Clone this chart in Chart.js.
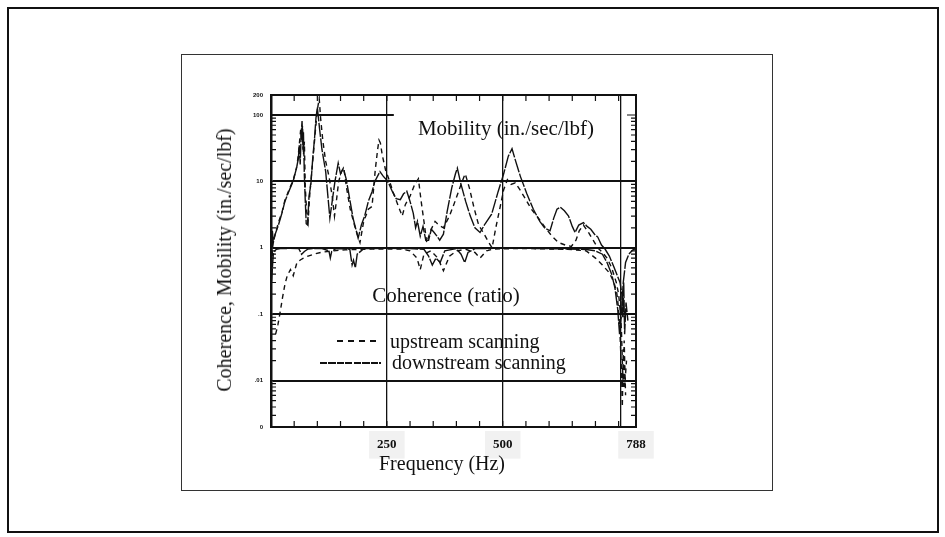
<!DOCTYPE html>
<html>
<head>
<meta charset="utf-8">
<script src="https://cdn.jsdelivr.net/npm/chart.js@4.4.1/dist/chart.umd.min.js"></script>
<style>
  body { margin: 0; background: #fff; }
  #wrap { position: relative; width: 945px; height: 537px; overflow: hidden; font-family: "Liberation Serif", "DejaVu Serif", serif; color: #111; }
  canvas { position: absolute; left: 0; top: 0; }
  .frame { position: absolute; box-sizing: border-box; border: 2px solid #111; }
  .txt { position: absolute; white-space: nowrap; line-height: 1; }
  .dash { position: absolute; height: 2px; }
</style>
</head>
<body>
<div id="wrap">
  <div class="frame" style="left:7px;top:7px;width:932px;height:526px;"></div>
  <div class="frame" style="left:181px;top:54px;width:592px;height:437px;border-width:1.5px;border-color:#333;"></div>
  <canvas id="chart" width="945" height="537"></canvas>

  <div class="txt" style="left:224px;top:260px;font-size:20px;transform:translate(-50%,-50%) rotate(-90deg);">Coherence, Mobility (in./sec/lbf)</div>
  <div class="txt" style="left:442px;top:463px;font-size:20px;transform:translate(-50%,-50%);">Frequency (Hz)</div>
  <div class="txt" style="left:506px;top:128px;font-size:21px;transform:translate(-50%,-50%);">Mobility (in./sec/lbf)</div>
  <div class="txt" style="left:446px;top:295px;font-size:21px;transform:translate(-50%,-50%);">Coherence (ratio)</div>

  <div class="dash" style="left:337px;top:340px;width:44px;background:repeating-linear-gradient(to right,#111 0 6px,transparent 6px 11px);"></div>
  <div class="txt" style="left:390px;top:341px;font-size:20px;transform:translateY(-50%);">upstream scanning</div>
  <div class="dash" style="left:320px;top:362px;width:61px;background:repeating-linear-gradient(to right,#111 0 7px,transparent 7px 8.5px);"></div>
  <div class="txt" style="left:392px;top:362px;font-size:20px;transform:translateY(-50%);">downstream scanning</div>
</div>

<script>
// axis ranges and tick labels
const xMin = 0;
const xMax = 787.5;
const xTickStep = 50;
const xTickValues = [0, 250, 500, 755, 787.5];
const xTickLabels = ['', '250', '500', '', '788'];
const xGridValues = [250, 500, 755];

const yMin = 0.002;
const yMax = 200;
const yTickValues = [0.002, 0.01, 0.1, 1, 10, 100, 200];
const yTickLabels = ['0', '.01', '.1', '1', '10', '100', '200'];
const yGridValues = [0.01, 0.1, 1, 10];

// partial reference line at 100
const refLineFreq = [0, 265];
const refLineVal = [100, 100];

// mobility, downstream scanning (solid)
const mobDownFreq = [1, 3, 5, 9, 16, 24, 30, 40, 48, 55,
  59, 61, 63, 65, 67, 69, 70, 72, 74, 76,
  79, 82, 86, 90, 94, 97, 100, 102, 105, 110,
  118, 127, 132, 138, 145, 150, 156, 162, 167, 177,
  188, 195, 202, 210, 218, 224, 235, 242, 249, 255,
  262, 270, 279, 286, 293, 300, 307, 312, 316, 322,
  328, 334, 340, 346, 352, 358, 364, 372, 380, 390,
  398, 402, 410, 420, 430, 440, 451, 462, 476, 490,
  502, 512, 520, 528, 538, 552, 566, 580, 590, 602,
  610, 617, 624, 633, 642, 650, 656, 664, 674, 682,
  690, 698, 705, 713, 721, 730, 739, 746, 753, 757,
  759, 761, 763, 766, 770];
const mobDownVal = [0.6, 1.8, 1.2, 1.6, 2.2, 3.4, 5, 7.5, 10.2, 15.8,
  22, 35, 18, 50, 81, 30, 55, 12, 5, 2.3,
  2.2, 6, 9, 22, 45, 90, 130, 95, 60, 30,
  14, 2.8, 5, 10, 18.8, 13, 15.8, 11, 7, 2.8,
  1.4, 2.2, 3, 5, 7, 10, 14, 12, 10.6, 9,
  7, 5.5, 5.3, 6.5, 7.1, 5, 3.3, 2, 2.5, 1.5,
  2.1, 1.3, 1.3, 1.9, 1.7, 1.5, 1.3, 1.6, 3.5, 8,
  13, 15.8, 9, 5, 3, 2, 1.7, 2.3, 3.2, 7,
  13, 24, 31, 20, 11.9, 6.5, 3.8, 2.5, 2, 1.8,
  2.8, 3.8, 4.1, 3.6, 3, 2.1, 1.7, 2.2, 2.4, 2.1,
  1.9, 1.6, 1.45, 1.1, 0.95, 0.75, 0.53, 0.4, 0.3, 0.2,
  0.09, 0.3, 0.05, 0.15, 0.08];

// mobility, upstream scanning (dashed)
const mobUpFreq = [1, 4, 8, 16, 24, 30, 40, 48, 56, 60,
  64, 66, 68, 70, 72, 74, 77, 80, 84, 90,
  96, 100, 104, 107, 112, 118, 125, 132, 137, 141,
  146, 152, 157, 163, 171, 180, 186, 192, 200, 210,
  218, 225, 230, 233, 236, 240, 247, 254, 264, 275,
  283, 290, 300, 310, 318, 324, 330, 336, 344, 354,
  362, 372, 385, 397, 410, 419, 428, 438, 448, 460,
  470, 477, 485, 494, 502, 510, 518, 527, 537, 548,
  562, 577, 592, 606, 620, 635, 648, 658, 665, 674,
  685, 695, 705, 715, 725, 735, 745, 750, 753, 756,
  758, 760, 762, 765];
const mobUpVal = [0.4, 1.3, 1.5, 2.4, 3.5, 5.2, 7.8, 10.5, 17, 30,
  60, 40, 70, 25, 40, 8, 3.5, 2.5, 7, 20,
  60, 120, 177, 90, 40, 20, 12, 6, 3, 5,
  10, 14, 16, 8, 3.8, 2.2, 1.6, 1.2, 2.5, 3.8,
  4.2, 15, 30, 42, 38, 25, 15, 11, 6.7, 4.2,
  3, 4.5, 6, 9, 11, 5, 2.5, 1.2, 1.8, 2.5,
  2.2, 2, 3, 5, 9, 13, 8, 4, 2.2, 1.6,
  1.2, 1.0, 2, 4, 7.5, 10.6, 9, 9.5, 7.5, 5.6,
  3.8, 2.8, 2, 1.5, 1.2, 1.1, 1.05, 1.3, 1.8, 2.2,
  1.7, 1.3, 1.0, 0.85, 0.7, 0.5, 0.3, 0.2, 0.12, 0.06,
  0.02, 0.008, 0.04, 0.006];

// coherence, upstream scanning (dashed)
const cohUpFreq = [10, 15, 19, 25, 30, 35, 42, 48, 56,
  64, 70, 80, 92, 110, 135, 160, 200, 240, 280,
  300, 315, 322, 330, 345, 360, 372, 385, 401, 420,
  440, 451, 465, 480, 520, 560, 600, 640, 680, 700,
  715, 730, 740, 746, 750, 753, 756, 758, 760, 763,
  767];
const cohUpVal = [0.05, 0.07, 0.1, 0.18, 0.28, 0.38, 0.47, 0.38, 0.6,
  0.66, 0.7, 0.75, 0.8, 0.86, 0.9, 0.93, 0.95, 0.96, 0.96,
  0.9, 0.7, 0.47, 0.8, 0.9, 0.7, 0.45, 0.75, 0.9, 0.95,
  0.85, 0.7, 0.9, 0.96, 0.97, 0.97, 0.96, 0.95, 0.9, 0.7,
  0.55, 0.42, 0.3, 0.21, 0.12, 0.05, 0.015, 0.004, 0.03, 0.008,
  0.02];

// coherence, downstream scanning (solid)
const cohDownFreq = [1, 3, 5, 8, 12, 20, 40, 60, 66, 72,
  80, 90, 110, 125, 128, 131, 140, 170, 175, 178,
  182, 186, 200, 250, 300, 330, 340, 348, 356, 365,
  375, 400, 410, 418, 425, 440, 480, 520, 560, 600,
  640, 680, 700, 715, 725, 735, 742, 748, 752, 756,
  760, 765, 772, 780, 787];
const cohDownVal = [0.3, 0.5, 0.8, 0.9, 0.95, 0.97, 0.98, 0.97, 0.8, 0.88,
  0.96, 0.97, 0.97, 0.9, 0.7, 0.88, 0.97, 0.95, 0.55, 0.65,
  0.5, 0.8, 0.97, 0.98, 0.97, 0.95, 0.75, 0.55, 0.7, 0.6,
  0.9, 0.97, 0.8, 0.6, 0.85, 0.97, 0.98, 0.98, 0.98, 0.97,
  0.96, 0.94, 0.9, 0.8, 0.6, 0.4, 0.25, 0.12, 0.05, 0.1,
  0.3, 0.6, 0.8, 0.92, 0.97];

const upDash = [5, 4];
const downDash = [14, 1.5];

function toPoints(xs, ys) {
  return xs.map((f, i) => ({ x: f, y: ys[i] }));
}

function series(xs, ys, dash, width) {
  return {
    data: toPoints(xs, ys),
    borderColor: '#111',
    borderWidth: width || 1.4,
    borderDash: dash,
    pointRadius: 0,
    tension: 0,
    fill: false
  };
}

// inward minor ticks on all four sides plus the closed frame
const innerTicks = {
  id: 'innerTicks',
  afterDatasetsDraw(chart) {
    const { ctx, chartArea: a, scales: { x, y } } = chart;
    ctx.save();
    ctx.strokeStyle = '#111';
    ctx.lineWidth = 1.2;
    ctx.beginPath();
    for (let f = xTickStep; f < xMax; f += xTickStep) {
      const px = x.getPixelForValue(f);
      ctx.moveTo(px, a.bottom);
      ctx.lineTo(px, a.bottom - 6);
      ctx.moveTo(px, a.top);
      ctx.lineTo(px, a.top + 6);
    }
    for (let e = -3; e <= 2; e++) {
      for (let k = 1; k <= 9; k++) {
        const v = k * Math.pow(10, e);
        if (v < yMin || v > yMax) continue;
        const py = y.getPixelForValue(v);
        const len = k === 1 ? 9 : 5;
        ctx.moveTo(a.left, py);
        ctx.lineTo(a.left + len, py);
        ctx.moveTo(a.right, py);
        ctx.lineTo(a.right - len, py);
      }
    }
    ctx.stroke();
    ctx.lineWidth = 2;
    ctx.strokeRect(a.left, a.top, a.width, a.height);
    ctx.restore();
  }
};

new Chart(document.getElementById('chart'), {
  type: 'line',
  data: {
    datasets: [
      series(refLineFreq, refLineVal, [], 2),
      series(mobUpFreq, mobUpVal, upDash),
      series(mobDownFreq, mobDownVal, downDash),
      series(cohUpFreq, cohUpVal, upDash),
      series(cohDownFreq, cohDownVal, downDash)
    ]
  },
  options: {
    responsive: false,
    animation: false,
    layout: { padding: { left: 0, top: 95, right: 309, bottom: 0 } },
    plugins: { legend: { display: false }, tooltip: { enabled: false } },
    scales: {
      x: {
        type: 'linear',
        min: xMin,
        max: xMax,
        afterBuildTicks: s => { s.ticks = xTickValues.map(v => ({ value: v })); },
        afterFit: s => { s.height = 110; },
        ticks: {
          autoSkip: false,
          maxRotation: 0,
          padding: 10,
          color: '#111',
          font: { family: 'Liberation Serif', size: 13, weight: 'bold' },
          callback: (v, i) => xTickLabels[i],
          showLabelBackdrop: true,
          backdropColor: c => xTickLabels[c.index] ? '#f1f1f1' : 'rgba(0,0,0,0)',
          backdropPadding: { x: 8, y: 6 }
        },
        grid: {
          drawTicks: false,
          color: c => (c.tick && xGridValues.includes(c.tick.value)) ? '#111' : 'rgba(0,0,0,0)',
          lineWidth: 1.3
        },
        border: { display: true, color: '#111', width: 2 }
      },
      y: {
        type: 'logarithmic',
        min: yMin,
        max: yMax,
        afterBuildTicks: s => { s.ticks = yTickValues.map(v => ({ value: v })); },
        afterFit: s => { s.width = 271; },
        ticks: {
          autoSkip: false,
          padding: 8,
          color: '#111',
          font: { family: 'Liberation Sans', size: 6, weight: 'bold' },
          callback: (v, i) => yTickLabels[i]
        },
        grid: {
          drawTicks: false,
          color: c => (c.tick && yGridValues.includes(c.tick.value)) ? '#111' : 'rgba(0,0,0,0)',
          lineWidth: 2
        },
        border: { display: true, color: '#111', width: 2.5 }
      }
    }
  },
  plugins: [innerTicks]
});
</script>
</body>
</html>
